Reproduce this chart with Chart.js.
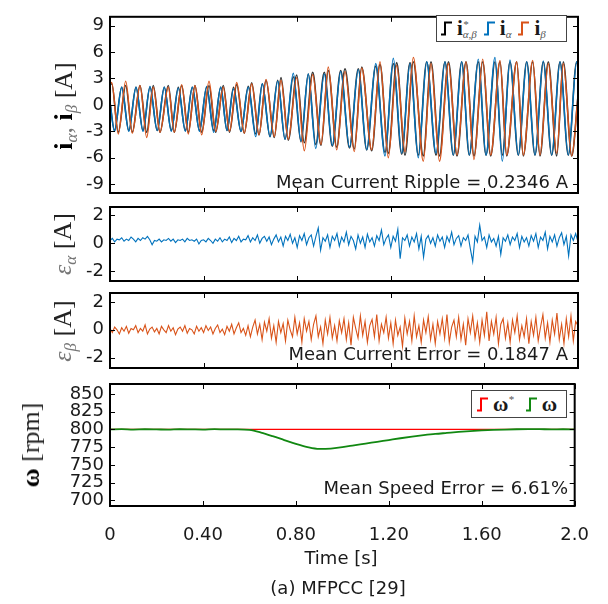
<!DOCTYPE html>
<html>
<head>
<meta charset="utf-8">
<script src="https://cdn.jsdelivr.net/npm/chart.js@4.4.0/dist/chart.umd.min.js"></script>
<style>
body { margin: 0; background: #fff; }
#wrap { position: relative; width: 608px; height: 604px; overflow: hidden; font-family: "DejaVu Sans", sans-serif; color: #1a1a1a; }
canvas { position: absolute; left: 0; top: 0; }
.note { position: absolute; right: 40px; font-size: 18px; line-height: 18px; white-space: nowrap; }
.cap { position: absolute; font-size: 18px; line-height: 18px; white-space: nowrap; transform: translateX(-50%); }
.ylab { position: absolute; transform: translate(-50%, -50%) rotate(-90deg); white-space: nowrap;
        font-family: "Liberation Serif", serif; font-size: 26px; line-height: 30px; color: #222; }
.ylab .b { font-weight: bold; color: #000; }
.ylab sub { font-size: 17px; font-style: italic; color: #777; vertical-align: -5px; }
.ylab .eps { font-style: italic; color: #777; }
.legend { position: absolute; border: 1px solid #444; background: #fff; display: flex; align-items: center;
          font-family: "Liberation Serif", serif; font-size: 21px; padding-left: 4px; box-sizing: border-box; }
.legend svg { width: 11px; height: 15px; margin-right: 5px; }
.legend .b { font-weight: bold; }
.legend .ss { display: inline-flex; flex-direction: column; font-size: 11px; line-height: 10px; font-style: italic; color: #555; margin-right: 7px; }
</style>
</head>
<body>
<div id="wrap">
  <canvas id="c1" width="608" height="604"></canvas>
  <canvas id="c2" width="608" height="604"></canvas>
  <canvas id="c3" width="608" height="604"></canvas>
  <canvas id="c4" width="608" height="604"></canvas>

  <div class="ylab" style="left:68px;top:106px;"><span class="b">i</span><sub>α</sub><span style="color:#777">, </span><span class="b">i</span><sub>β</sub> [A]</div>
  <div class="ylab" style="left:67px;top:244px;"><span class="eps">ε</span><sub>α</sub> [A]</div>
  <div class="ylab" style="left:67px;top:331px;"><span class="eps">ε</span><sub>β</sub> [A]</div>
  <div class="ylab" style="left:31px;top:445px;"><span class="b">ω</span> [rpm]</div>

  <div class="legend" style="left:436px;top:15px;width:131px;height:27px;">
    <svg viewBox="0 0 11 15"><path d="M0 13.5H4V1.5H11" fill="none" stroke="#000" stroke-width="2"/></svg><span class="b">i</span><span class="ss"><span>*</span><span>α,β</span></span>
    <svg viewBox="0 0 11 15"><path d="M0 13.5H4V1.5H11" fill="none" stroke="#0072BD" stroke-width="2"/></svg><span class="b">i</span><span class="ss"><span>&nbsp;</span><span>α</span></span>
    <svg viewBox="0 0 11 15"><path d="M0 13.5H4V1.5H11" fill="none" stroke="#D95319" stroke-width="2"/></svg><span class="b">i</span><span class="ss"><span>&nbsp;</span><span>β</span></span>
  </div>
  <div class="legend" style="left:471px;top:390px;width:96px;height:28px;padding-left:5px;">
    <svg viewBox="0 0 11 15"><path d="M0 13.5H4V1.5H11" fill="none" stroke="#ff0000" stroke-width="2"/></svg><span class="b">ω</span><span class="ss" style="margin-right:12px"><span>*</span><span>&nbsp;</span></span>
    <svg viewBox="0 0 11 15"><path d="M0 13.5H4V1.5H11" fill="none" stroke="#118811" stroke-width="2"/></svg><span class="b">ω</span>
  </div>

  <div class="note" style="top:173px;">Mean Current Ripple = 0.2346 A</div>
  <div class="note" style="top:345px;">Mean Current Error = 0.1847 A</div>
  <div class="note" style="top:479px;">Mean Speed Error = 6.61%</div>
  <div class="cap" style="left:341px;top:549px;">Time [s]</div>
  <div class="cap" style="left:338px;top:579px;">(a) MFPCC [29]</div>
</div>

<script>
// axes
const xTicks = [0, 0.4, 0.8, 1.2, 1.6, 2.0];
const xTickLabels = ['0', '0.40', '0.80', '1.20', '1.60', '2.0'];
const iTicks = [-9, -6, -3, 0, 3, 6, 9];
const errTicks = [-2, 0, 2];
const speedTicks = [700, 725, 750, 775, 800, 825, 850];

// phase currents: times of the peaks / troughs [s] and their values [A]
const iAlphaT = [0, 0.0192, 0.0500, 0.0803, 0.1111, 0.1410, 0.1709, 0.2017, 0.2321, 0.2620,
  0.2919, 0.3218, 0.3517, 0.3825, 0.4132, 0.4432, 0.4731, 0.5000, 0.5278, 0.5598,
  0.5910, 0.6226, 0.6509, 0.6838, 0.7167, 0.7479, 0.7833, 0.8162, 0.8474, 0.8791,
  0.9158, 0.9500, 0.9859, 1.0235, 1.0611, 1.0970, 1.1355, 1.1752, 1.2107, 1.2466,
  1.2821, 1.3175, 1.3534, 1.3932, 1.4316, 1.4671, 1.5030, 1.5355, 1.5739, 1.6068,
  1.6453, 1.6765, 1.7094, 1.7449, 1.7808, 1.8162, 1.8517, 1.8876, 1.9231, 1.9585,
  1.9944, 2.0];
const iAlpha = [0.3, -3.0, 2.0, -3.0, 2.0, -3.0, 2.1, -2.9, 2.0, -3.0,
  1.9, -3.0, 2.0, -3.0, 2.1, -3.1, 2.0, -2.9, 1.8, -3.0,
  2.0, -3.6, 2.4, -3.6, 2.7, -3.9, 3.6, -4.1, 3.5, -4.95,
  3.5, -4.6, 3.8, -4.8, 4.0, -5.1, 4.7, -5.8, 5.3, -5.5,
  4.7, -6.0, 4.9, -5.5, 4.9, -5.7, 4.9, -5.7, 5.2, -5.7,
  5.4, -6.4, 5.1, -5.7, 4.9, -5.7, 5.0, -5.7, 4.9, -5.7,
  4.9, 4.5];
const iAlphaRef = [0.3, -2.9, 2.0, -2.9, 2.0, -2.9, 2.0, -2.9, 2.0, -2.9,
  2.0, -2.9, 2.0, -2.9, 2.0, -2.9, 2.0, -2.9, 2.0, -3.0,
  2.1, -3.3, 2.4, -3.6, 2.8, -3.9, 3.2, -4.2, 3.5, -4.5,
  3.7, -4.7, 3.9, -4.9, 4.1, -5.1, 4.4, -5.4, 4.7, -5.6,
  4.8, -5.7, 4.9, -5.7, 4.9, -5.7, 4.9, -5.7, 4.9, -5.7,
  4.9, -5.7, 4.9, -5.7, 4.9, -5.7, 4.9, -5.7, 4.9, -5.7,
  4.9, 4.5];

const iBetaT = [0, 0.0073, 0.0355, 0.0671, 0.0953, 0.1282, 0.1568, 0.1850, 0.2137, 0.2491,
  0.2748, 0.3064, 0.3346, 0.3632, 0.3919, 0.4231, 0.4517, 0.4842, 0.5107, 0.5415,
  0.5739, 0.6056, 0.6368, 0.6667, 0.7021, 0.7308, 0.7620, 0.7979, 0.8303, 0.8662,
  0.9017, 0.9329, 0.9688, 1.0043, 1.0440, 1.0756, 1.1184, 1.1538, 1.1893, 1.2252,
  1.2607, 1.2962, 1.3389, 1.3718, 1.4081, 1.4466, 1.4829, 1.5214, 1.5556, 1.5927,
  1.6269, 1.6667, 1.6953, 1.7380, 1.7662, 1.8064, 1.8376, 1.8731, 1.9090, 1.9372,
  1.9731, 2.0];
const iBeta = [2.3, 2.55, -3.3, 2.7, -3.2, 2.2, -3.7, 2.0, -3.1, 2.0,
  -3.1, 2.3, -3.3, 2.2, -3.4, 2.7, -3.0, 2.0, -3.0, 2.55,
  -3.2, 2.4, -3.4, 2.9, -3.6, 2.8, -3.9, 3.1, -5.2, 3.45,
  -4.5, 4.3, -5.1, 3.8, -5.3, 4.2, -5.1, 4.9, -6.0, 4.5,
  -5.3, 5.4, -6.4, 4.7, -6.4, 4.7, -5.7, 4.9, -6.2, 5.2,
  -5.7, 5.05, -5.7, 4.9, -5.7, 5.05, -5.7, 4.7, -5.5, 4.7,
  -5.8, 1.0];
const iBetaRef = [2.3, 2.4, -3.1, 2.2, -3.1, 2.2, -3.1, 2.2, -3.1, 2.2,
  -3.1, 2.2, -3.1, 2.2, -3.1, 2.2, -3.1, 2.2, -3.1, 2.3,
  -3.2, 2.5, -3.4, 2.8, -3.7, 3.1, -4.0, 3.4, -4.3, 3.7,
  -4.6, 3.9, -4.8, 4.1, -5.0, 4.3, -5.2, 4.6, -5.5, 4.8,
  -5.7, 4.9, -5.8, 4.9, -5.8, 4.9, -5.8, 4.9, -5.8, 4.9,
  -5.8, 4.9, -5.8, 4.9, -5.8, 4.9, -5.8, 4.9, -5.8, 4.9,
  -5.8, 1.0];

// tracking errors, one sample every 10 ms [A]
const errAlpha = [0.2, 0.35, 0.1, 0.3, 0.25, 0.4, 0.15, 0.3, 0.2, 0.45,
  0.3, 0.1, 0.35, 0.2, 0.4, 0.3, 0.5, 0.25, -0.1, 0.2,
  0.15, 0.3, 0.1, 0.25, 0.2, 0.35, 0.15, 0.3, 0.05, 0.25,
  0.2, 0.3, 0.1, 0.35, 0.2, 0.25, 0.15, 0.3, -0.05, 0.2,
  0.25, 0.1, 0.35, 0.2, 0.0, 0.3, 0.15, 0.4, 0.1, 0.3,
  0.2, 0.45, 0.05, 0.35, 0.2, 0.5, 0.1, 0.3, 0.25, 0.55,
  0.1, 0.4, 0.2, 0.6, 0.0, 0.35, 0.5, 0.15, 0.45, -0.1,
  0.3, 0.6, 0.1, 0.45, -0.2, 0.5, 0.2, 0.65, 0.0, 0.4,
  -0.3, 0.55, 0.2, 0.7, -0.1, 0.4, 0.6, -0.2, 0.5, 1.1,
  -0.5, 0.4, 0.15, 0.6, -0.3, 0.5, 0.2, 0.7, -0.2, 0.45,
  0.1, 0.8, -0.1, 0.5, 0.2, -0.4, 0.6, 0.0, 0.45, -0.3,
  0.65, 0.1, 0.4, -0.2, 0.55, 0.2, 0.95, -0.1, 0.35, 0.6,
  -0.3, 0.5, 0.15, 1.0, -1.1, 0.4, 0.2, 0.6, -0.2, 0.45,
  0.1, 0.7, -0.4, 0.5, -1.0, 0.3, 0.55, 0.0, 0.4, -0.2,
  0.6, 0.15, 0.45, -0.3, 0.5, 0.1, 0.8, -0.1, 0.35, 0.55,
  -0.2, 0.4, 0.2, 0.6, -0.4, -1.3, 0.5, 0.1, 1.3, 0.2,
  0.45, -0.3, 0.6, 0.1, 0.35, -0.2, 0.5, -0.8, 0.4, 0.15,
  0.6, -0.1, 0.45, 0.2, 0.7, -0.3, 0.5, 0.1, 0.4, -0.2,
  0.55, 0.15, 0.7, -0.3, 0.45, 0.2, 0.8, -0.4, 0.5, 0.1,
  0.6, -0.2, 0.4, 0.75, -0.1, 0.5, -0.9, 0.6, 0.2, 0.7,
  0.1];
const errBeta = [0.1, -0.2, 0.2, 0.0, -0.3, 0.15, -0.1, 0.25, -0.25, 0.1,
  0.0, 0.3, -0.2, 0.1, -0.1, 0.35, -0.3, 0.05, 0.2, -0.15,
  0.1, -0.3, 0.25, 0.0, -0.2, 0.3, -0.1, 0.15, -0.35, 0.05,
  0.2, -0.1, 0.3, -0.25, 0.1, 0.0, -0.3, 0.25, -0.1, 0.15,
  -0.2, 0.3, -0.05, 0.2, -0.3, 0.1, 0.35, -0.2, 0.05, -0.35,
  0.25, -0.1, 0.4, -0.3, 0.15, 0.5, -0.2, 0.1, -0.4, 0.3,
  -0.5, 0.2, 0.7, -0.3, 0.4, -0.7, 0.55, -0.1, 0.8, -0.6,
  0.3, -0.9, 0.6, -0.2, 0.45, -0.8, 0.7, 0.0, -0.5, 0.9,
  -0.3, 0.5, -0.9, 0.8, -0.1, 0.6, -0.7, 0.4, 1.0, -0.5,
  0.2, -1.0, 0.7, -0.3, 0.9, -0.6, 0.3, -0.8, 0.65, -0.2,
  0.8, -0.7, 0.5, -1.1, 0.9, 0.1, -0.6, 1.0, -0.4, 0.6,
  -0.9, 0.3, 0.75, -0.5, 1.1, -0.8, 0.4, -0.2, 0.9, -0.6,
  0.5, -1.0, 0.7, -0.4, 0.2, -1.2, 0.85, -0.3, 0.6, -0.8,
  1.0, -0.5, 0.3, -0.9, 0.7, -0.2, 0.95, -0.7, 0.4, -1.0,
  0.6, -0.3, 0.8, -0.6, 1.1, -0.9, 0.2, 0.7, -0.5, 0.9,
  -0.7, 0.4, -1.1, 0.8, -0.2, 1.0, -0.6, 0.5, -0.9, 0.7,
  -0.4, 1.3, -0.8, 0.6, -0.3, 0.9, -1.0, 0.4, 0.8, -0.6,
  0.5, -0.9, 0.7, -0.2, 1.0, -0.7, 0.3, -0.5, 0.8, -1.0,
  0.6, -0.4, 0.9, -0.8, 0.2, 1.1, -0.6, 0.5, -0.9, 0.7,
  -0.3, 1.2, -0.7, 0.4, -1.0, 0.8, -0.5, 1.0, -0.8, 0.6,
  0.3];

// rotor speed [rpm]
const speedT = [0, 0.05, 0.1, 0.15, 0.2, 0.25, 0.3, 0.35, 0.4, 0.45,
  0.5, 0.55, 0.6, 0.65, 0.7, 0.75, 0.8, 0.85, 0.9, 0.95,
  1.0, 1.05, 1.1, 1.15, 1.2, 1.25, 1.3, 1.35, 1.4, 1.45,
  1.5, 1.55, 1.6, 1.65, 1.7, 1.75, 1.8, 1.85, 1.9, 1.95, 2.0];
const speed = [800, 800.3, 799.8, 800.2, 800, 799.7, 800.2, 800, 799.8, 800.3,
  800, 800.1, 799.3, 795.5, 790.5, 785, 779.5, 775, 772.5, 773,
  775, 777.5, 780, 782.5, 785, 787.5, 789.8, 791.8, 793.6, 795,
  796.4, 797.6, 798.6, 799.3, 799.8, 800.2, 800.4, 800.3, 800.1, 800.2, 800];
const speedRefT = [0, 2];
const speedRef = [800, 800];

const pts = (t, v) => v.map((y, i) => ({x: t[i], y: y}));
const errT = errAlpha.map((v, i) => i * 0.01);

const line = (data, color, width, smooth) => ({
    data: data,
    borderColor: color,
    borderWidth: width,
    pointRadius: 0,
    fill: false,
    tension: 0,
    cubicInterpolationMode: smooth ? 'monotone' : 'default'
});

// box round the plot area with inward tick marks on all four sides
const frame = {
    id: 'frame',
    afterDatasetsDraw(chart) {
        const {ctx, chartArea: a, scales: {x, y}} = chart;
        ctx.save();
        ctx.strokeStyle = '#000';
        ctx.lineWidth = 1;
        ctx.beginPath();
        xTicks.forEach(v => {
            const px = Math.round(x.getPixelForValue(v)) + 0.5;
            ctx.moveTo(px, a.top); ctx.lineTo(px, a.top + 5);
            ctx.moveTo(px, a.bottom); ctx.lineTo(px, a.bottom - 5);
        });
        y.ticks.forEach(t => {
            const py = Math.round(y.getPixelForValue(t.value)) + 0.5;
            ctx.moveTo(a.left, py); ctx.lineTo(a.left + 5, py);
            ctx.moveTo(a.right, py); ctx.lineTo(a.right - 5, py);
        });
        ctx.stroke();
        ctx.lineWidth = 2;
        ctx.strokeRect(a.left, a.top, a.right - a.left, a.bottom - a.top);
        ctx.restore();
    }
};

const tickFont = {family: 'DejaVu Sans', size: 18};

const panel = (id, datasets, yMin, yMax, yTicks, top, bottom, showX) => new Chart(document.getElementById(id), {
    type: 'line',
    data: {datasets: datasets},
    options: {
        responsive: false,
        animation: false,
        events: [],
        layout: {padding: {left: 0, right: 30, top: top, bottom: bottom}},
        plugins: {legend: {display: false}, tooltip: {enabled: false}},
        scales: {
            x: {
                type: 'linear', min: 0, max: 2, display: showX,
                grid: {display: false, drawTicks: false}, border: {display: false},
                afterBuildTicks: s => { s.ticks = xTicks.map(v => ({value: v})); },
                afterFit: s => { s.height = showX ? 40 : 0; },
                ticks: {padding: 19, color: '#1a1a1a', font: tickFont, maxRotation: 0, autoSkip: false,
                        callback: (v, i) => xTickLabels[i]}
            },
            y: {
                min: yMin, max: yMax,
                grid: {display: false, drawTicks: false}, border: {display: false},
                afterBuildTicks: s => { s.ticks = yTicks.map(v => ({value: v})); },
                afterFit: s => { s.width = 110; },
                ticks: {padding: 6, autoSkip: false, color: '#1a1a1a', font: tickFont, callback: v => String(v)}
            }
        }
    },
    plugins: [frame]
});

panel('c1', [
    line(pts(iBetaT, iBeta), '#D95319', 1.4, true),
    line(pts(iAlphaT, iAlpha), '#0072BD', 1.4, true),
    line(pts(iBetaT, iBetaRef), '#333333', 1.6, true),
    line(pts(iAlphaT, iAlphaRef), '#333333', 1.6, true)
], -10, 10, iTicks, 7, 604 - 193, false);

panel('c2', [line(pts(errT, errAlpha), '#0072BD', 1.1, false)], -2.7, 2.6, errTicks, 207, 604 - 281, false);

panel('c3', [line(pts(errT, errBeta), '#D95319', 1.1, false)], -2.75, 2.65, errTicks, 293, 604 - 368, false);

panel('c4', [
    line(pts(speedT, speed), '#118811', 1.8, true),
    line(pts(speedRefT, speedRef), '#ff0000', 1.2, false)
], 692, 864, speedTicks, 384, 604 - 506 - 40, true);
</script>
</body>
</html>
